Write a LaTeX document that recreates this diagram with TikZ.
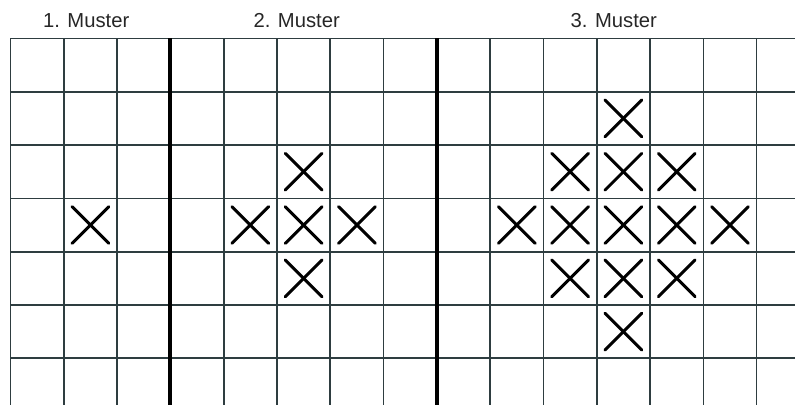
\documentclass[tikz,border=0pt]{standalone}
\usepackage{fontspec}
\setmainfont{Liberation Sans}
\definecolor{gittergrau}{HTML}{2E3D40}
\tikzset{
  gitter/.style={gittergrau, line width=0.9pt},
  trenner/.style={black, line width=2.1pt},
  kreuz/.style={black, line width=1.6pt, line cap=round},
  titel/.style={anchor=base, text=black!85, font=\fontsize{10.8}{12}\selectfont}
}

\begin{document}
\begin{tikzpicture}[x=1cm, y=-1cm]
            \clip (-0.197,-0.722) rectangle (14.72,6.876);
            \draw[gitter] (0,0) grid (15,7.5);
            \draw[trenner] (3,0) -- (3,7.5);
            \draw[trenner] (8,0) -- (8,7.5);
            \node[titel] (muster1) at (1.42,-0.21) {1. Muster};
            \node[titel] (muster2) at (5.37,-0.21) {2. Muster};
            \node[titel] (muster3) at (11.32,-0.21) {3. Muster};

            \foreach \c/\r in {1/3,
                               5/2, 4/3, 5/3, 6/3, 5/4,
                               11/1, 10/2, 11/2, 12/2, 9/3, 10/3, 11/3, 12/3, 13/3,
                               10/4, 11/4, 12/4, 11/5}
            {
                \draw[kreuz] (\c+0.155,\r+0.155) -- (\c+0.845,\r+0.845);
                \draw[kreuz] (\c+0.845,\r+0.155) -- (\c+0.155,\r+0.845);
            }
        \end{tikzpicture}
\end{document}
